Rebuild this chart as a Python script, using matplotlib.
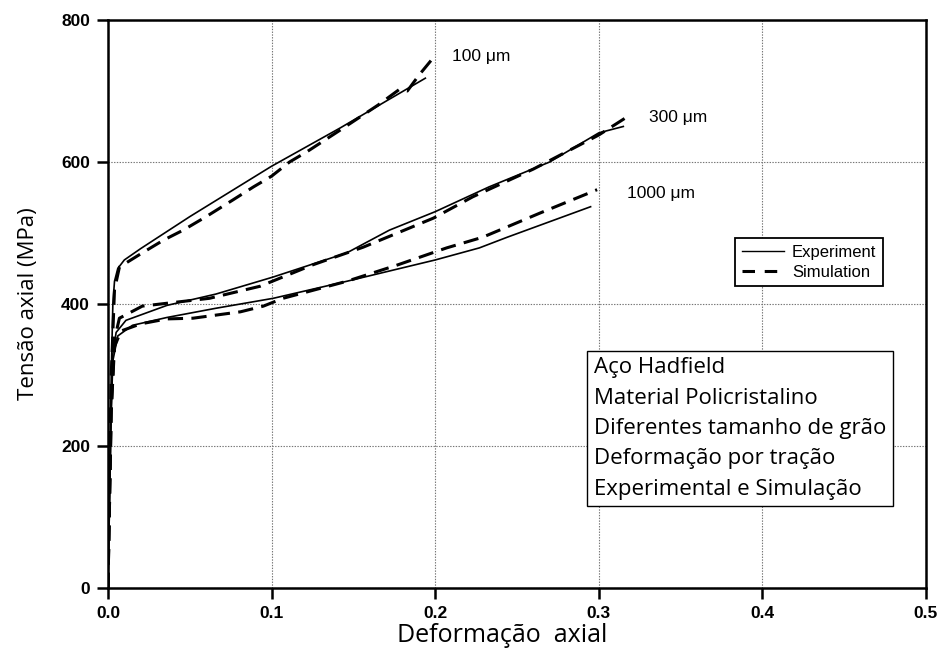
import matplotlib
matplotlib.use("Agg")
import matplotlib.pyplot as plt
from matplotlib.lines import Line2D

plt.rcParams['lines.scale_dashes'] = False

# ---- data (strain, stress MPa) ----
exp100_x = [0, 0.002, 0.003, 0.004, 0.006, 0.01, 0.02, 0.05, 0.1, 0.142, 0.194]
exp100_y = [0, 300, 400, 432, 450, 462, 478, 523, 594, 648, 718]
sim100_x = [0, 0.002, 0.004, 0.007, 0.021, 0.034, 0.046, 0.06, 0.076, 0.089, 0.1, 0.111, 0.122, 0.142, 0.165, 0.178, 0.183, 0.19, 0.2]
sim100_y = [0, 300, 420, 452, 472, 490, 504, 523, 546, 565, 580, 600, 615, 645, 680, 702, 700, 722, 750]

exp300_x = [0, 0.002, 0.003, 0.005, 0.011, 0.036, 0.066, 0.101, 0.146, 0.172, 0.2, 0.233, 0.27, 0.3, 0.315]
exp300_y = [0, 250, 330, 360, 377, 398, 414, 438, 472, 504, 530, 565, 600, 641, 650]
sim300_x = [0, 0.002, 0.004, 0.007, 0.021, 0.062, 0.093, 0.125, 0.156, 0.199, 0.223, 0.26, 0.3, 0.319]
sim300_y = [0, 250, 350, 380, 397, 408, 425, 455, 480, 521, 551, 590, 638, 666]

exp1000_x = [0, 0.002, 0.003, 0.006, 0.015, 0.036, 0.066, 0.101, 0.146, 0.2, 0.227, 0.244, 0.295]
exp1000_y = [0, 250, 320, 355, 370, 381, 394, 408, 432, 462, 479, 494, 537]
sim1000_x = [0, 0.002, 0.004, 0.008, 0.02, 0.036, 0.052, 0.081, 0.095, 0.107, 0.146, 0.177, 0.207, 0.229, 0.264, 0.299]
sim1000_y = [0, 250, 340, 362, 372, 379, 380, 389, 397, 408, 432, 455, 479, 494, 528, 561]

curve_labels = ["100 \u03bcm", "300 \u03bcm", "1000 \u03bcm"]
label_pos = [(0.21, 748), (0.331, 663), (0.317, 556)]

xticks = [0.0, 0.1, 0.2, 0.3, 0.4, 0.5]
yticks = [0, 200, 400, 600, 800]

info_lines = ["A\u00e7o Hadfield", "Material Policristalino", "Diferentes tamanho de gr\u00e3o",
              "Deforma\u00e7\u00e3o por tra\u00e7\u00e3o", "Experimental e Simula\u00e7\u00e3o"]

fig = plt.figure(figsize=(9.42, 6.59), dpi=100)
ax = fig.add_axes([0.1146, 0.1077, 0.8684, 0.862])

exp_kw = dict(color='black', lw=1.2, solid_joinstyle='round')
sim_kw = dict(color='black', lw=2.2, dashes=(11, 6))
ax.plot(exp100_x, exp100_y, **exp_kw)
ax.plot(sim100_x, sim100_y, **sim_kw)
ax.plot(exp300_x, exp300_y, **exp_kw)
ax.plot(sim300_x, sim300_y, **sim_kw)
ax.plot(exp1000_x, exp1000_y, **exp_kw)
ax.plot(sim1000_x, sim1000_y, **sim_kw)

for lab, (lx, ly) in zip(curve_labels, label_pos):
    ax.text(lx, ly, lab, fontsize=12.5, family='Liberation Sans', va='center', ha='left')

ax.set_xlim(0, 0.5)
ax.set_ylim(0, 800)
ax.set_xticks(xticks)
ax.set_yticks(yticks)
ax.set_xticklabels([f"{v:.1f}" for v in xticks], family='Liberation Sans', fontweight='bold', fontsize=12.5)
ax.set_yticklabels([str(v) for v in yticks], family='Liberation Sans', fontweight='bold', fontsize=12.5)
ax.tick_params(direction='out', length=8, width=1.8, pad=5)
for s in ax.spines.values():
    s.set_linewidth(1.8)
ax.grid(True, color='#777777', ls=(0, (1, 1)), lw=0.8)
ax.set_axisbelow(True)

ax.set_xlabel("Deforma\u00e7\u00e3o  axial", family='Open Sans', fontsize=18)
ax.xaxis.set_label_coords(0.482, -0.062, transform=ax.transAxes)
ax.xaxis.label.set_va('top')
ax.set_ylabel("Tens\u00e3o axial (MPa)", family='Open Sans', fontsize=16, labelpad=16)

handles = [Line2D([0], [0], color='black', lw=1.0),
           Line2D([0], [0], color='black', lw=2.2, dashes=(9, 7))]
leg = ax.legend(handles, ["Experiment", "Simulation"], loc='upper left',
                bbox_to_anchor=(0.767, 0.616), prop={'family': 'Liberation Sans', 'size': 12},
                frameon=True, fancybox=False, edgecolor='black', framealpha=1,
                handlelength=2.5, borderpad=0.4, labelspacing=0.3, handletextpad=0.5,
                borderaxespad=0)
leg.get_frame().set_linewidth(1.3)

ax.text(0.594, 0.406, "\n".join(info_lines), transform=ax.transAxes, family='Open Sans',
        fontsize=16, va='top', ha='left', linespacing=1.58,
        bbox=dict(boxstyle='square,pad=0.3', fc='white', ec='black', lw=1.0))

fig.savefig("out.png", dpi=100)
